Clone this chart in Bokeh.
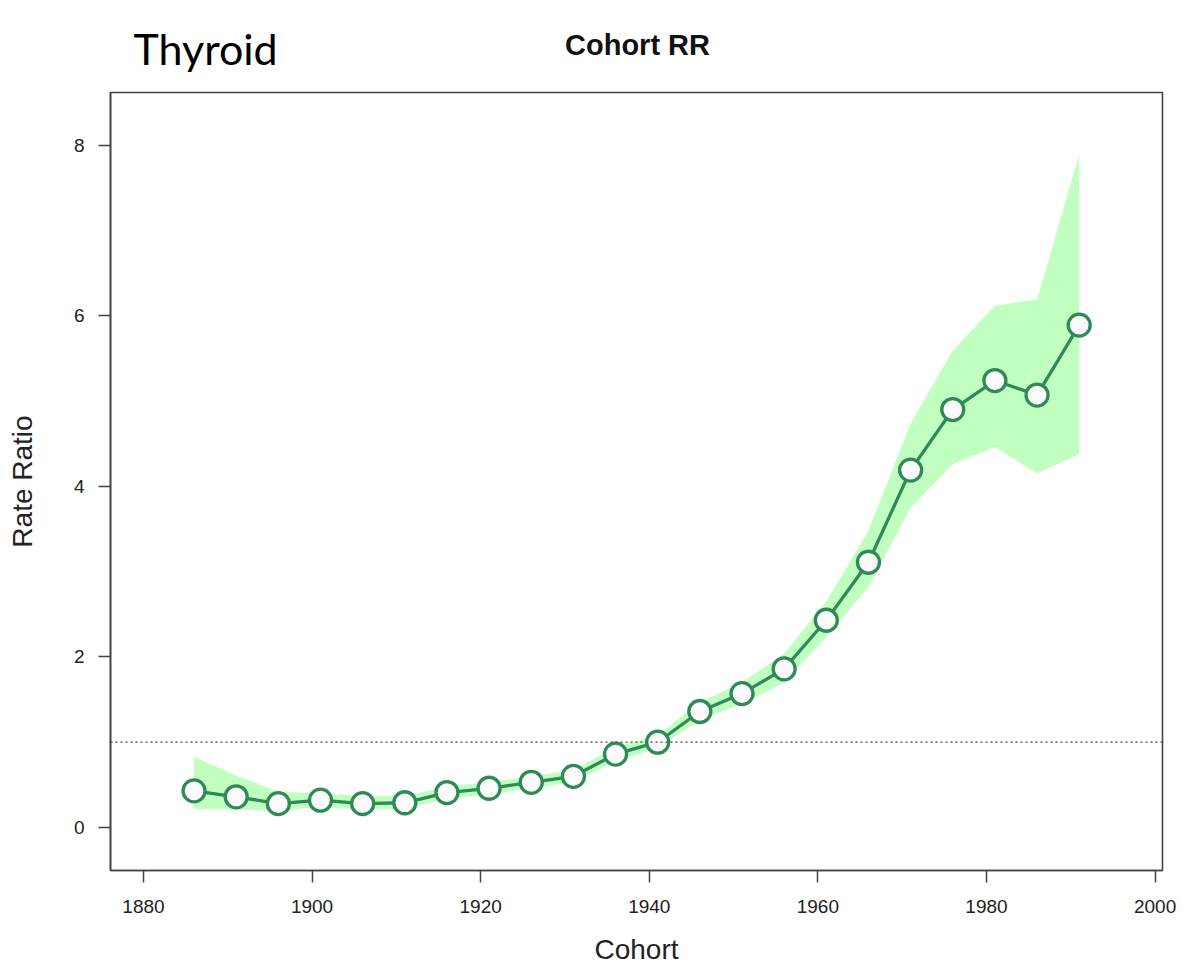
from bokeh.plotting import figure
from bokeh.layouts import column
from bokeh.models import Range1d, Span, Label, FixedTicker
from bokeh.embed import file_html
from bokeh.resources import INLINE

cohort = [1886, 1891, 1896, 1901, 1906, 1911, 1916, 1921, 1926, 1931, 1936,
          1941, 1946, 1951, 1956, 1961, 1966, 1971, 1976, 1981, 1986, 1991]
rr = [0.43, 0.36, 0.28, 0.32, 0.28, 0.29, 0.41, 0.46, 0.53, 0.60, 0.86,
      1.00, 1.36, 1.57, 1.86, 2.43, 3.11, 4.19, 4.90, 5.24, 5.07, 5.89]
rr_upper = [0.83, 0.61, 0.42, 0.40, 0.37, 0.37, 0.48, 0.53, 0.60, 0.67, 0.95,
            1.08, 1.47, 1.70, 2.04, 2.65, 3.48, 4.74, 5.59, 6.12, 6.19, 7.89]
rr_lower = [0.22, 0.21, 0.20, 0.24, 0.21, 0.22, 0.34, 0.39, 0.46, 0.53, 0.78,
            0.93, 1.26, 1.45, 1.70, 2.23, 2.82, 3.75, 4.26, 4.46, 4.15, 4.38]
x_ticks = [1880, 1900, 1920, 1940, 1960, 1980, 2000]
y_ticks = [0, 2, 4, 6, 8]
reference_rr = 1.0

W = 1184
HEAD_H = 88

# ---- header strip holding the two titles ----
# its frame is aligned with the main frame (page x 110..1162), y in pixels downward
head = figure(width=W, height=HEAD_H, min_border=0,
              min_border_left=110, min_border_right=22, min_border_top=0, min_border_bottom=0,
              x_range=Range1d(110, 1162), y_range=Range1d(HEAD_H, 0),
              x_axis_type=None, y_axis_type=None, title_location=None,
              output_backend="svg", toolbar_location=None)
head.outline_line_color = None
head.background_fill_color = "white"
head.border_fill_color = "white"
head.add_layout(Label(x=637, y=44, text="Cohort RR", text_align="center",
                      text_baseline="alphabetic", text_font="Liberation Sans",
                      text_font_style="bold", text_font_size="29px", text_color="#111111"))
head.add_layout(Label(x=133, y=48, text="Thyroid", text_align="left",
                      text_baseline="alphabetic", text_font="Lato",
                      text_font_size="43px", text_color="#000000"))

# ---- main chart ----
p = figure(frame_width=1052, frame_height=778,
           min_border_left=110, min_border_right=22,
           min_border_top=4, min_border_bottom=102,
           x_range=Range1d(1876.09, 2000.88), y_range=Range1d(-0.504, 8.617),
           title_location=None,
           output_backend="svg", toolbar_location=None)

p.varea(x=cohort, y1=rr_lower, y2=rr_upper, fill_color="#c1ffc1", fill_alpha=1.0)
p.add_layout(Span(location=reference_rr, dimension="width", line_color="#444444",
                  line_width=1.2, line_dash="2 3"))
p.line(cohort, rr, line_color="#2e8b57", line_width=3.3)
p.scatter(cohort, rr, size=22, fill_color="#fafafa", line_color="#2e8b57", line_width=3.3)

p.xgrid.visible = False
p.ygrid.visible = False
p.outline_line_color = "#444444"
p.outline_line_width = 1.6
p.background_fill_color = "white"

p.xaxis.ticker = FixedTicker(ticks=x_ticks)
p.yaxis.ticker = FixedTicker(ticks=y_ticks)
for ax in (p.xaxis[0], p.yaxis[0]):
    ax.axis_line_color = "#444444"
    ax.axis_line_width = 1.6
    ax.major_tick_line_color = "#444444"
    ax.major_tick_line_width = 1.5
    ax.major_tick_out = 12
    ax.major_tick_in = 0
    ax.minor_tick_line_color = None
    ax.major_label_text_font = "Liberation Sans"
    ax.major_label_text_font_size = "19px"
    ax.major_label_text_color = "#222222"
    ax.axis_label_text_font = "Liberation Sans"
    ax.axis_label_text_font_style = "normal"
    ax.axis_label_text_font_size = "28px"
    ax.axis_label_text_color = "#222222"

p.xaxis.axis_label = "Cohort"
p.yaxis.axis_label = "Rate Ratio"
p.xaxis.major_label_standoff = 17
p.xaxis.axis_label_standoff = 18
p.yaxis.major_label_standoff = 14
p.yaxis.axis_label_standoff = 33
p.yaxis.major_label_orientation = "horizontal"

layout = column(head, p, spacing=0)
open("out.html", "w").write(file_html(layout, INLINE))
